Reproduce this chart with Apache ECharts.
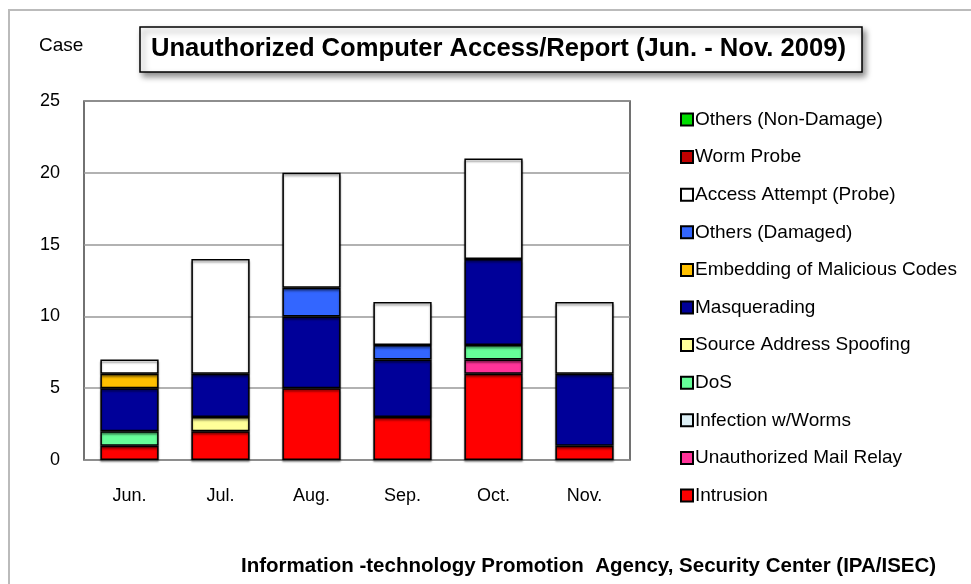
<!DOCTYPE html>
<html><head><meta charset="utf-8">
<script src="https://cdn.jsdelivr.net/npm/echarts@6/dist/echarts.min.js"></script>
<style>html,body{margin:0;padding:0;background:#fff}#c{width:971px;height:584px}</style>
</head><body><div id="c"></div>
<script>
const months = ['Jun.', 'Jul.', 'Aug.', 'Sep.', 'Oct.', 'Nov.'];
const yTicks = [0, 5, 10, 15, 20, 25];
// stacked bottom to top
const intrusion       = [1, 2, 5, 3, 6, 1];
const mailRelay       = [0, 0, 0, 0, 1, 0];
const infectionWorms  = [0, 0, 0, 0, 0, 0];
const dos             = [1, 0, 0, 0, 1, 0];
const spoofing        = [0, 1, 0, 0, 0, 0];
const masquerading    = [3, 3, 5, 4, 6, 5];
const embedding       = [1, 0, 0, 0, 0, 0];
const othersDamaged   = [0, 0, 2, 1, 0, 0];
const accessAttempt   = [1, 8, 8, 3, 7, 5];
const wormProbe       = [0, 0, 0, 0, 0, 0];
const othersNonDamage = [0, 0, 0, 0, 0, 0];

const seriesDefs = [
  ['Intrusion', intrusion, '#FF0000'],
  ['Unauthorized Mail Relay', mailRelay, '#FF3399'],
  ['Infection w/Worms', infectionWorms, '#DDEFF5'],
  ['DoS', dos, '#66FF99'],
  ['Source Address Spoofing', spoofing, '#FFFF99'],
  ['Masquerading', masquerading, '#000099'],
  ['Embedding of Malicious Codes', embedding, '#FFC000'],
  ['Others (Damaged)', othersDamaged, '#3366FF'],
  ['Access Attempt (Probe)', accessAttempt, '#FFFFFF'],
  ['Worm Probe', wormProbe, '#C00000'],
  ['Others (Non-Damage)', othersNonDamage, '#00DD00']
];

const FONT = '"Liberation Sans Narrow", "Liberation Sans", sans-serif';
const chart = echarts.init(document.getElementById('c'), null, {renderer: 'canvas'});
chart.setOption({
  animation: false,
  textStyle: {fontFamily: FONT},
  title: [
    {text: 'Unauthorized Computer Access/Report (Jun. - Nov. 2009)', left: 140, top: 27,
     padding: [9, 16, 10, 11], borderColor: '#000', borderWidth: 1.5, backgroundColor: '#fff',
     shadowColor: 'rgba(0,0,0,0.45)', shadowBlur: 6, shadowOffsetX: 3, shadowOffsetY: 4,
     textStyle: {fontFamily: FONT, fontSize: 25.6, fontWeight: 'bold', color: '#000'}},
    {text: 'Case', left: 34, top: 31, textStyle: {fontFamily: FONT, fontSize: 19, fontWeight: 'normal', color: '#000'}},
    {text: 'Information -technology Promotion  Agency, Security Center (IPA/ISEC)', left: 236, top: 551,
     textStyle: {fontFamily: FONT, fontSize: 20.5, fontWeight: 'bold', color: '#000'}}
  ],
  graphic: [
    {type: 'polyline', shape: {points: [[9, 600], [9, 10], [980, 10]]}, style: {stroke: '#bbb', lineWidth: 2, fill: null}, z: -1}
  ],
  legend: {
    orient: 'vertical', left: 675, top: 105, itemGap: 18.6, itemWidth: 12, itemHeight: 12, icon: 'rect',
    data: seriesDefs.map(d => d[0]).slice().reverse(),
    textStyle: {fontFamily: FONT, fontSize: 19, lineHeight: 18, color: '#000', padding: [0, 0, 0, -3]}
  },
  grid: {left: 84, right: 341, top: 101, bottom: 124, show: true, borderColor: '#444', borderWidth: 1.5, backgroundColor: 'transparent'},
  xAxis: {
    type: 'category', data: months,
    axisLine: {show: false}, axisTick: {show: false},
    axisLabel: {margin: 27, fontSize: 18, color: '#000', fontFamily: FONT}
  },
  yAxis: {
    type: 'value', min: yTicks[0], max: yTicks[yTicks.length - 1], interval: 5,
    axisLine: {show: false}, axisTick: {show: false},
    axisLabel: {margin: 24, fontSize: 18, color: '#000', fontFamily: FONT},
    splitLine: {lineStyle: {color: '#999', width: 1.5}}
  },
  series: seriesDefs.map(d => ({
    name: d[0], type: 'bar', stack: 'total', barWidth: '64%',
    data: d[1].map(v => v === 0 ? null : v),
    itemStyle: {color: d[2], borderColor: '#000', borderWidth: 1.5,
      shadowColor: 'rgba(0,0,0,0.4)', shadowBlur: 2, shadowOffsetY: 2}
  }))
});
</script></body></html>
